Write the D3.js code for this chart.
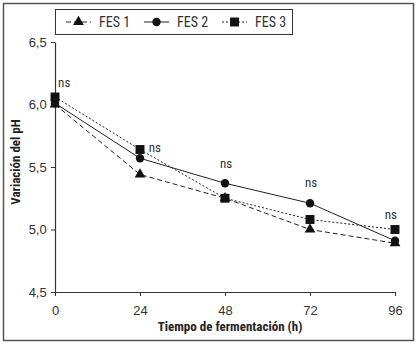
<!DOCTYPE html>
<html>
<head>
<meta charset="utf-8">
<script src="https://cdn.jsdelivr.net/npm/d3@7"></script>
<style>
  body { margin: 0; background: #fff; }
  svg { font-family: "Liberation Sans Narrow", "Arial Narrow", "Roboto Condensed", "Liberation Sans", sans-serif; }
  .tick text { font-size: 13px; fill: #333; }
  .axis path, .axis line { stroke: #333; }
</style>
</head>
<body>
<svg id="chart" width="417" height="344"></svg>
<script>
// Fermentation time (h) and pH of each batch.
const hours = [0, 24, 48, 72, 96];
const fes1  = [6.00, 5.44, 5.25, 5.00, 4.89];
const fes2  = [6.01, 5.57, 5.37, 5.21, 4.91];
const fes3  = [6.06, 5.64, 5.25, 5.08, 5.00];
const yTicks = [4.5, 5.0, 5.5, 6.0, 6.5];

// "ns" marks (hour, pH) where they sit.
const nsHours = [2.6, 28.2, 48.3, 72.3, 94.8];
const nsPH    = [6.18, 5.66, 5.53, 5.38, 5.12];

const series = [
  { name: 'FES 1', values: fes1, shape: d3.symbolTriangle, size: 50, dash: '5,3' },
  { name: 'FES 2', values: fes2, shape: d3.symbolCircle,   size: 55, dash: null },
  { name: 'FES 3', values: fes3, shape: d3.symbolSquare,   size: 80, dash: '2,2' }
];

const svg = d3.select('#chart');
const margin = { left: 55, right: 22, top: 42, bottom: 52 };
const W = 417, H = 344;

const x = d3.scaleLinear().domain([0, 96]).range([margin.left, W - margin.right]);
const y = d3.scaleLinear().domain([4.5, 6.5]).range([H - margin.bottom, margin.top]);
const comma = d => d3.format('.1f')(d).replace('.', ',');

// Outer frame.
svg.append('rect')
  .attr('x', 3.5).attr('y', 3.5)
  .attr('width', W - 7).attr('height', H - 7)
  .attr('fill', 'none').attr('stroke', '#555').attr('stroke-width', 1.5);

// Axes.
svg.append('g')
  .attr('class', 'axis')
  .attr('transform', `translate(0,${y(4.5)})`)
  .call(d3.axisBottom(x).tickValues(hours).tickSize(4).tickSizeOuter(0))
  .call(g => g.selectAll('.tick text').attr('dy', '1.25em'));

svg.append('g')
  .attr('class', 'axis')
  .attr('transform', `translate(${x(0)},0)`)
  .call(d3.axisLeft(y).tickValues(yTicks).tickFormat(comma).tickSize(4).tickSizeOuter(0))
  .call(g => g.selectAll('.tick text').attr('dx', '-0.1em'));

svg.selectAll('.domain').attr('stroke-width', 1.2);

// Axis titles.
svg.append('text')
  .attr('x', (x(0) + x(96)) / 2 + 5).attr('y', 331)
  .attr('text-anchor', 'middle')
  .attr('font-size', 13).attr('font-weight', 'bold').attr('fill', '#222')
  .text('Tiempo de fermentación (h)');

svg.append('text')
  .attr('transform', `translate(20,${(y(4.5) + y(6.5)) / 2 - 5}) rotate(-90)`)
  .attr('text-anchor', 'middle')
  .attr('font-size', 13).attr('font-weight', 'bold').attr('fill', '#222')
  .text('Variación del pH');

// Lines and markers.
const line = d3.line().x((d, i) => x(hours[i])).y(d => y(d));

series.forEach(s => {
  svg.append('path')
    .datum(s.values)
    .attr('d', line)
    .attr('fill', 'none')
    .attr('stroke', '#222')
    .attr('stroke-width', 1)
    .attr('stroke-dasharray', s.dash);

  svg.selectAll(null)
    .data(s.values)
    .enter()
    .append('path')
      .attr('transform', (d, i) => `translate(${x(hours[i])},${y(d)})`)
      .attr('d', d3.symbol().type(s.shape).size(s.size))
      .attr('fill', '#111');
});

// "ns" labels.
svg.selectAll('.ns')
  .data(nsHours)
  .enter()
  .append('text')
    .attr('class', 'ns')
    .attr('x', d => x(d))
    .attr('y', (d, i) => y(nsPH[i]))
    .attr('dy', '0.35em')
    .attr('text-anchor', 'middle')
    .attr('font-size', 13).attr('fill', '#333')
    .text('ns');

// Legend.
const legend = svg.append('g');
legend.append('rect')
  .attr('x', 55.5).attr('y', 9.5)
  .attr('width', 237).attr('height', 25)
  .attr('fill', '#fff').attr('stroke', '#333').attr('stroke-width', 1);

const legendX = [66, 144, 222];
series.forEach((s, i) => {
  const lx = legendX[i], ly = 22;
  legend.append('line')
    .attr('x1', lx).attr('x2', lx + 25)
    .attr('y1', ly).attr('y2', ly)
    .attr('stroke', '#222').attr('stroke-width', 1)
    .attr('stroke-dasharray', s.dash);
  legend.append('path')
    .attr('transform', `translate(${lx + 12.5},${ly})`)
    .attr('d', d3.symbol().type(s.shape).size(s.size))
    .attr('fill', '#111');
  legend.append('text')
    .attr('x', lx + 33).attr('y', ly)
    .attr('dy', '0.36em')
    .attr('font-size', 14).attr('fill', '#333')
    .text(s.name);
});
</script>
</body>
</html>
